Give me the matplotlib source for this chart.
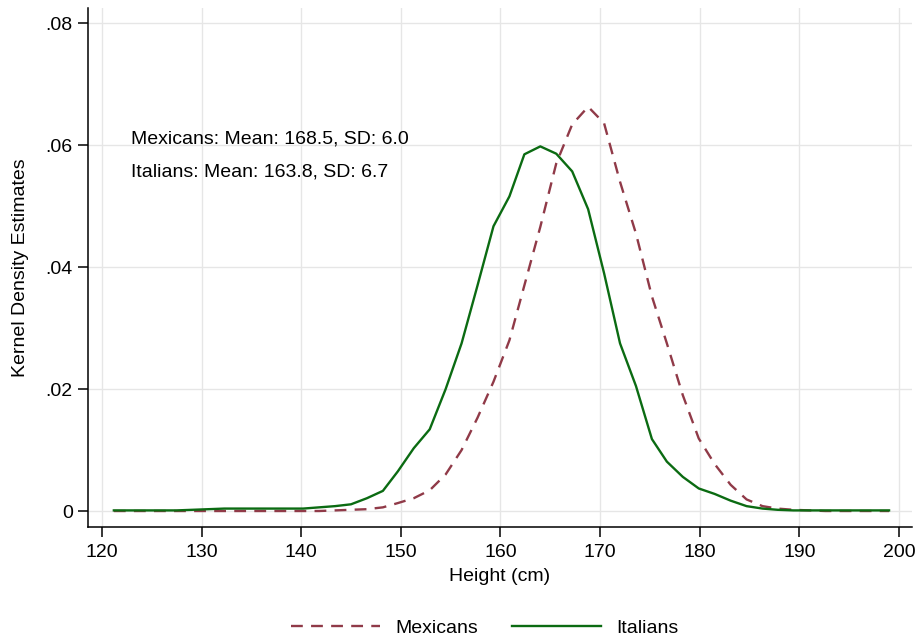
import matplotlib
matplotlib.use("Agg")
import matplotlib.pyplot as plt
from matplotlib.lines import Line2D

plt.rcParams["font.family"] = ["Liberation Sans", "DejaVu Sans"]

# kernel density grid (cm)
height = [121.2, 122.8, 124.4, 125.9, 127.5, 129.1, 130.7, 132.3, 133.9, 135.5,
          137.1, 138.6, 140.2, 141.8, 143.4, 145.0, 146.6, 148.2, 149.7, 151.3,
          152.9, 154.5, 156.1, 157.7, 159.3, 160.9, 162.4, 164.0, 165.6, 167.2,
          168.8, 170.4, 172.0, 173.6, 175.2, 176.7, 178.3, 179.9, 181.5, 183.1,
          184.7, 186.3, 187.8, 189.4, 191.0, 192.6, 194.2, 195.8, 197.4, 199.0]

mexicans = [0.0000, 0.0000, 0.0000, 0.0000, 0.0000, 0.0000, 0.0000, 0.0000, 0.0000, 0.0000,
            0.0000, 0.0000, 0.0000, 0.0000, 0.0001, 0.0002, 0.0003, 0.0006, 0.0013, 0.0021,
            0.0034, 0.0060, 0.0100, 0.0153, 0.0212, 0.0280, 0.0370, 0.0466, 0.0570, 0.0634,
            0.0663, 0.0636, 0.0540, 0.0455, 0.0352, 0.0275, 0.0190, 0.0119, 0.0077, 0.0043,
            0.0019, 0.0008, 0.0004, 0.0002, 0.0001, 0.0000, 0.0000, 0.0000, 0.0000, 0.0000]

italians = [0.0001, 0.0001, 0.0001, 0.0001, 0.0001, 0.0002, 0.0003, 0.0004, 0.0004, 0.0004,
            0.0004, 0.0004, 0.0004, 0.0006, 0.0008, 0.0011, 0.0021, 0.0033, 0.0065, 0.0103,
            0.0134, 0.0200, 0.0275, 0.0370, 0.0467, 0.0516, 0.0585, 0.0598, 0.0586, 0.0557,
            0.0495, 0.0390, 0.0275, 0.0205, 0.0118, 0.0081, 0.0056, 0.0037, 0.0028, 0.0017,
            0.0008, 0.0004, 0.0002, 0.0001, 0.0001, 0.0001, 0.0001, 0.0001, 0.0001, 0.0001]

xticks = [120, 130, 140, 150, 160, 170, 180, 190, 200]
yticks = [0, 0.02, 0.04, 0.06, 0.08]
ytick_labels = ["0", ".02", ".04", ".06", ".08"]

note_lines = ["Mexicans: Mean: 168.5, SD: 6.0", "Italians: Mean: 163.8, SD: 6.7"]

MEX_COLOR = "#903a48"
ITA_COLOR = "#0b6b12"
FS = 14

fig = plt.figure(figsize=(9.16, 6.38), dpi=100)
ax = fig.add_axes([0.096, 0.174, 0.8996, 0.8135])

ax.plot(height, mexicans, color=MEX_COLOR, lw=1.7, ls=(0, (5, 3.5)))
ax.plot(height, italians, color=ITA_COLOR, lw=1.7)

ax.set_xlim(118.6, 201.3)
ax.set_ylim(-0.00262, 0.0825)
ax.set_xticks(xticks)
ax.set_yticks(yticks)
ax.set_yticklabels(ytick_labels)
ax.tick_params(axis="both", labelsize=FS, length=7, width=1.1, color="black", direction="out")
ax.tick_params(axis="x", pad=5)
ax.tick_params(axis="y", pad=4)
ax.grid(True, color="#e6e6e6", lw=1.0)
ax.set_axisbelow(True)
for side in ("top", "right"):
    ax.spines[side].set_visible(False)
for side in ("left", "bottom"):
    ax.spines[side].set_linewidth(1.1)

ax.set_xlabel("Height (cm)", fontsize=FS, labelpad=5)
ax.set_ylabel("Kernel Density Estimates", fontsize=FS, labelpad=12)

ax.text(122.9, 0.0610, note_lines[0], fontsize=FS, va="center", ha="left")
ax.text(122.9, 0.0556, note_lines[1], fontsize=FS, va="center", ha="left")

handles = [Line2D([0], [0], color=MEX_COLOR, lw=1.7, ls=(0, (5, 3.5))),
           Line2D([0], [0], color=ITA_COLOR, lw=1.7)]
fig.legend(handles, ["Mexicans", "Italians"], loc="center", bbox_to_anchor=(0.529, 0.016),
           ncol=2, frameon=False, fontsize=FS, handlelength=4.6, columnspacing=1.75,
           handletextpad=0.75)

fig.savefig("out.png", dpi=100)
